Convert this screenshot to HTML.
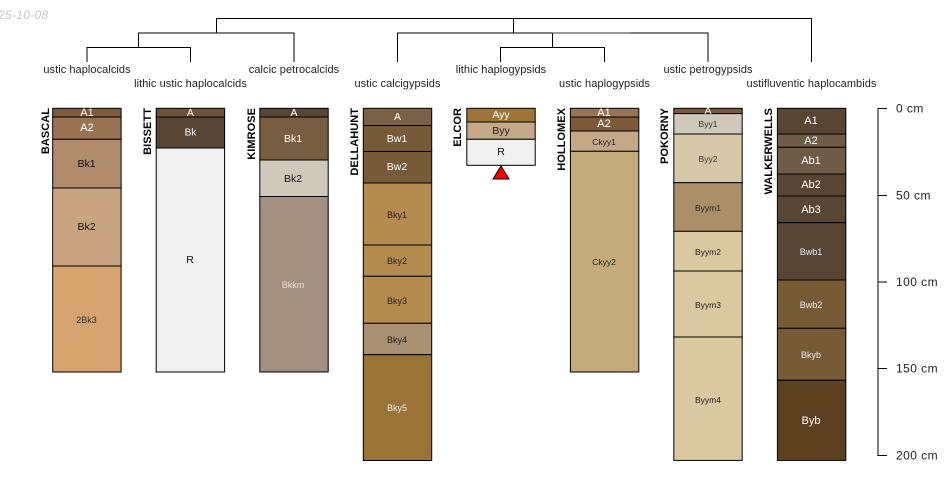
<!DOCTYPE html>
<html><head><meta charset="utf-8"><style>
html,body{margin:0;padding:0;background:#fff}
svg{display:block}
text{font-family:"Liberation Sans",Arial,sans-serif}
.l{font-size:11px;fill:#222;text-anchor:middle;letter-spacing:.06px}
.n{font-size:11px;font-weight:bold;fill:#000;text-anchor:end;letter-spacing:.05px}
.h{text-anchor:middle;dominant-baseline:central}
.a{font-size:12px;fill:#222;dominant-baseline:central;letter-spacing:.45px}
</style></head><body>
<svg width="950" height="500" viewBox="0 0 950 500" xmlns="http://www.w3.org/2000/svg">
<text x="-2" y="19" font-size="12" font-style="italic" fill="#c4c4c4" letter-spacing=".3">25-10-08</text>
<g fill="none" stroke="#000" stroke-width="1">
<path d="M216.5 33V18.5H811.5V62"/>
<path d="M513.5 18.5V33"/>
<path d="M138.5 47V33H294V62"/>
<path d="M87 62V47.5H190.5V62"/>
<path d="M397.5 62V33H708V62"/>
<path d="M552.5 33V47.5"/>
<path d="M500.5 62V47.5H604.5V62"/>
<path d="M552 33H630" stroke="#333"/>
</g>
<g class="lb">
<text class="l" x="87" y="73">ustic haplocalcids</text>
<text class="l" x="190.5" y="87">lithic ustic haplocalcids</text>
<text class="l" x="294" y="73">calcic petrocalcids</text>
<text class="l" x="397.5" y="87">ustic calcigypsids</text>
<text class="l" x="501" y="73">lithic haplogypsids</text>
<text class="l" x="604.5" y="87">ustic haplogypsids</text>
<text class="l" x="708" y="73">ustic petrogypsids</text>
<text class="l" x="811.5" y="87">ustifluventic haplocambids</text>
</g>
<g class="n">
<text class="n" transform="translate(49,108) rotate(-90)">BASCAL</text>
<text class="n" transform="translate(151,108) rotate(-90)">BISSETT</text>
<text class="n" transform="translate(255,108) rotate(-90)">KIMROSE</text>
<text class="n" transform="translate(358,108) rotate(-90)">DELLAHUNT</text>
<text class="n" transform="translate(461,108) rotate(-90)">ELCOR</text>
<text class="n" transform="translate(565,108) rotate(-90)">HOLLOMEX</text>
<text class="n" transform="translate(668,108) rotate(-90)">POKORNY</text>
<text class="n" transform="translate(772,108) rotate(-90)">WALKERWELLS</text>
</g>
<g stroke="#000" stroke-width="1">
<!-- BASCAL -->
<rect x="52.7" y="108.3" width="68.4" height="8.7" fill="#7f5b3c"/>
<rect x="52.7" y="117" width="68.4" height="22.3" fill="#987454"/>
<rect x="52.7" y="139.3" width="68.4" height="48.7" fill="#b08c6c"/>
<rect x="52.7" y="188" width="68.4" height="78" fill="#caa584"/>
<rect x="52.7" y="266" width="68.4" height="106" fill="#d7a46f"/>
<!-- BISSETT -->
<rect x="156.2" y="108.3" width="68.4" height="8.7" fill="#6a5339"/>
<rect x="156.2" y="117" width="68.4" height="31" fill="#574635"/>
<rect x="156.2" y="148" width="68.4" height="224" fill="#f0f0f0"/>
<!-- KIMROSE -->
<rect x="259.8" y="108.3" width="68.4" height="8.7" fill="#574635"/>
<rect x="259.8" y="117" width="68.4" height="43" fill="#775e41"/>
<rect x="259.8" y="160" width="68.4" height="36.5" fill="#d1c8bc"/>
<rect x="259.8" y="196.5" width="68.4" height="175.5" fill="#a39080"/>
<!-- DELLAHUNT -->
<rect x="363.3" y="108.3" width="68.4" height="17.2" fill="#786146"/>
<rect x="363.3" y="125.5" width="68.4" height="26" fill="#775b38"/>
<rect x="363.3" y="151.5" width="68.4" height="31.5" fill="#775b38"/>
<rect x="363.3" y="183" width="68.4" height="62" fill="#b48c50"/>
<rect x="363.3" y="245" width="68.4" height="31.3" fill="#b48c50"/>
<rect x="363.3" y="276.3" width="68.4" height="47" fill="#b48c50"/>
<rect x="363.3" y="323.3" width="68.4" height="31.4" fill="#a89070"/>
<rect x="363.3" y="354.7" width="68.4" height="105.8" fill="#9a7337"/>
<!-- ELCOR -->
<rect x="466.8" y="108.3" width="68.4" height="13.7" fill="#9e7539"/>
<rect x="466.8" y="122" width="68.4" height="17.3" fill="#c4a888"/>
<rect x="466.8" y="139.3" width="68.4" height="26" fill="#f0f0f0"/>
<polygon points="501,166 509,179 493,179" fill="#f00"/>
<!-- HOLLOMEX -->
<rect x="570.4" y="108.3" width="68.4" height="8.7" fill="#987454"/>
<rect x="570.4" y="117" width="68.4" height="14" fill="#7c5a3a"/>
<rect x="570.4" y="131" width="68.4" height="20.3" fill="#c4a888"/>
<rect x="570.4" y="151.3" width="68.4" height="220.7" fill="#c4ab7c"/>
<!-- POKORNY -->
<rect x="673.8" y="108.3" width="68.4" height="5.3" fill="#775b38"/>
<rect x="673.8" y="113.6" width="68.4" height="20.4" fill="#d1c8bc"/>
<rect x="673.8" y="134" width="68.4" height="48.7" fill="#d4c8a8"/>
<rect x="673.8" y="182.7" width="68.4" height="48.6" fill="#ab8f68"/>
<rect x="673.8" y="231.3" width="68.4" height="39.7" fill="#dac8a0"/>
<rect x="673.8" y="271" width="68.4" height="66" fill="#dac8a0"/>
<rect x="673.8" y="337" width="68.4" height="123.4" fill="#dac8a0"/>
<!-- WALKERWELLS -->
<rect x="777.4" y="108.3" width="68.4" height="25.7" fill="#574635"/>
<rect x="777.4" y="134" width="68.4" height="13.3" fill="#6e5b48"/>
<rect x="777.4" y="147.3" width="68.4" height="26.7" fill="#6e5b48"/>
<rect x="777.4" y="174" width="68.4" height="22" fill="#574635"/>
<rect x="777.4" y="196" width="68.4" height="26.7" fill="#574635"/>
<rect x="777.4" y="222.7" width="68.4" height="57.3" fill="#574635"/>
<rect x="777.4" y="280" width="68.4" height="48.3" fill="#775b36"/>
<rect x="777.4" y="328.3" width="68.4" height="52" fill="#775b36"/>
<rect x="777.4" y="380.3" width="68.4" height="80.1" fill="#5c4020"/>
</g>
<g class="hs">
<g fill="#fff">
<text class="h" x="87" y="113" font-size="11">A1</text>
<text class="h" x="87" y="128" font-size="11">A2</text>
<text class="h" x="190.4" y="113" font-size="10.5">A</text>
<text class="h" x="190.4" y="133" font-size="10">Bk</text>
<text class="h" x="294" y="113" font-size="10.5">A</text>
<text class="h" x="293" y="139" font-size="10.5">Bk1</text>
<text class="h" x="293" y="285" font-size="9" fill="#e8e0d8">Bkkm</text>
<text class="h" x="397.5" y="117" font-size="10.5">A</text>
<text class="h" x="397" y="139" font-size="10.5">Bw1</text>
<text class="h" x="397" y="167" font-size="10.5">Bw2</text>
<text class="h" x="397" y="408" font-size="9" fill="#eee">Bky5</text>
<text class="h" x="501" y="115" font-size="10.5">Ayy</text>
<text class="h" x="604" y="113" font-size="11">A1</text>
<text class="h" x="604" y="124" font-size="11">A2</text>
<text class="h" x="708" y="111" font-size="10.5">A</text>
<text class="h" x="811" y="121" font-size="11">A1</text>
<text class="h" x="811" y="141" font-size="11">A2</text>
<text class="h" x="811" y="161" font-size="11">Ab1</text>
<text class="h" x="811" y="185" font-size="11">Ab2</text>
<text class="h" x="811" y="210" font-size="11">Ab3</text>
<text class="h" x="811" y="252" font-size="9" fill="#eee">Bwb1</text>
<text class="h" x="811" y="305" font-size="9" fill="#eee">Bwb2</text>
<text class="h" x="811" y="355" font-size="9" fill="#eee">Bkyb</text>
<text class="h" x="811" y="421" font-size="11">Byb</text>
</g>
<g fill="#111">
<text class="h" x="86.5" y="164" font-size="10.5">Bk1</text>
<text class="h" x="86.5" y="227" font-size="10.5">Bk2</text>
<text class="h" x="86.5" y="320" font-size="9" fill="#333">2Bk3</text>
<text class="h" x="190" y="260" font-size="10.5">R</text>
<text class="h" x="293" y="179" font-size="10.5">Bk2</text>
<text class="h" x="397" y="215" font-size="9" fill="#222">Bky1</text>
<text class="h" x="397" y="261" font-size="9" fill="#222">Bky2</text>
<text class="h" x="397" y="301" font-size="9" fill="#222">Bky3</text>
<text class="h" x="397" y="340" font-size="9" fill="#222">Bky4</text>
<text class="h" x="501" y="131" font-size="10.5" fill="#222">Byy</text>
<text class="h" x="501" y="152" font-size="10.5">R</text>
<text class="h" x="604" y="142" font-size="8.5" fill="#222">Ckyy1</text>
<text class="h" x="604" y="262" font-size="8.5" fill="#222">Ckyy2</text>
<text class="h" x="708" y="124" font-size="8.5" fill="#333">Byy1</text>
<text class="h" x="708" y="159" font-size="8.5" fill="#333">Byy2</text>
<text class="h" x="708" y="208" font-size="8.5" fill="#222">Byym1</text>
<text class="h" x="708" y="252" font-size="8.5" fill="#222">Byym2</text>
<text class="h" x="708" y="305" font-size="8.5" fill="#222">Byym3</text>
<text class="h" x="708" y="400" font-size="8.5" fill="#222">Byym4</text>
</g>
</g>
<g fill="none" stroke="#000" stroke-width="1">
<path d="M887 108.5H878V455.5H887"/>
<path d="M878 195.5H887M878 282H887M878 368.5H887"/>
</g>
<text class="a" x="896" y="108.5">0 cm</text>
<text class="a" x="896" y="195.5">50 cm</text>
<text class="a" x="896" y="282">100 cm</text>
<text class="a" x="896" y="368.5">150 cm</text>
<text class="a" x="896" y="455.5">200 cm</text>
</svg>
</body></html>
